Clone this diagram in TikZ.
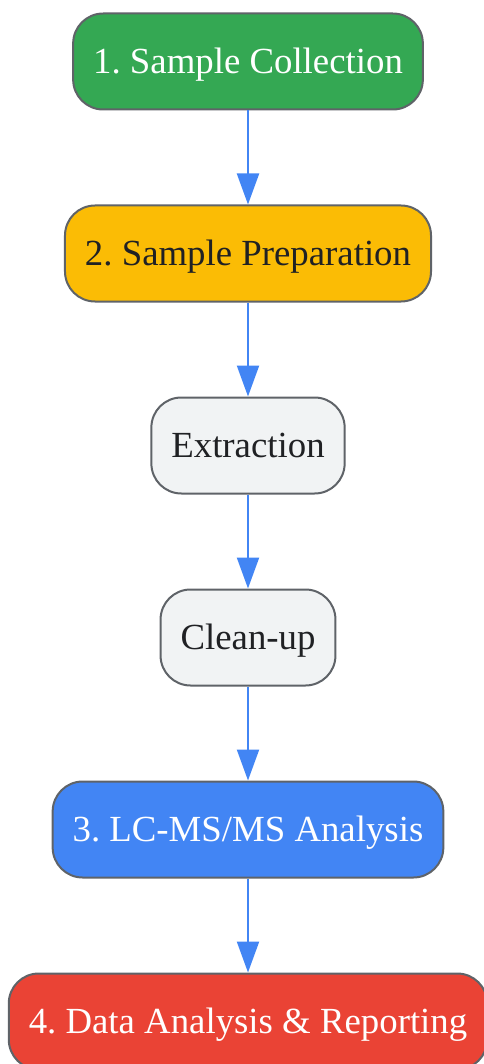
\documentclass[tikz,border=0pt]{standalone}
\usepackage{fontspec}
\setmainfont{Liberation Serif}
\usetikzlibrary{arrows.meta}
\frenchspacing

\definecolor{collectgreen}{HTML}{34A853}
\definecolor{prepyellow}{HTML}{FBBC05}
\definecolor{substepgray}{HTML}{F1F3F4}
\definecolor{analysisblue}{HTML}{4285F4}
\definecolor{reportred}{HTML}{EA4335}
\definecolor{edgegray}{HTML}{5F6368}
\definecolor{darktext}{HTML}{202124}

\begin{document}
\begin{tikzpicture}[x=1pt,y=1pt]

% \draw[help lines, color=gray!30] (0,0) grid (483,-1064);

\tikzstyle{stage}=[draw=edgegray, line width=2pt, rounded corners=30pt, minimum height=96pt, inner xsep=20pt, text height=24.4pt, text depth=0pt, font=\fontsize{36.8}{44}\selectfont]
\tikzstyle{flow}=[draw=analysisblue, line width=2.2pt, -{Triangle[length=31pt,width=22pt]}]

\useasboundingbox (0,0) rectangle (483,-1064);

% main stages
\node[stage, fill=collectgreen, text=white] (collect) at (248,-61.5) {1. Sample Collection};
\node[stage, fill=prepyellow, text=darktext] (prep) at (248,-253.5) {2. Sample Preparation};
\node[stage, fill=substepgray, text=darktext] (extract) at (248,-445.5) {Extraction};
\node[stage, fill=substepgray, text=darktext] (cleanup) at (248,-637.5) {Clean-up};
\node[stage, fill=analysisblue, text=white] (lcms) at (248,-829.5) {3. LC-MS/MS Analysis};
\node[stage, fill=reportred, text=white] (report) at (248,-1021.5) {4. Data Analysis \& Reporting};

% Flow
\draw[flow] (collect) -- (prep);
\draw[flow] (prep) -- (extract);
\draw[flow] (extract) -- (cleanup);
\draw[flow] (cleanup) -- (lcms);
\draw[flow] (lcms) -- (report);

\end{tikzpicture}
\end{document}
